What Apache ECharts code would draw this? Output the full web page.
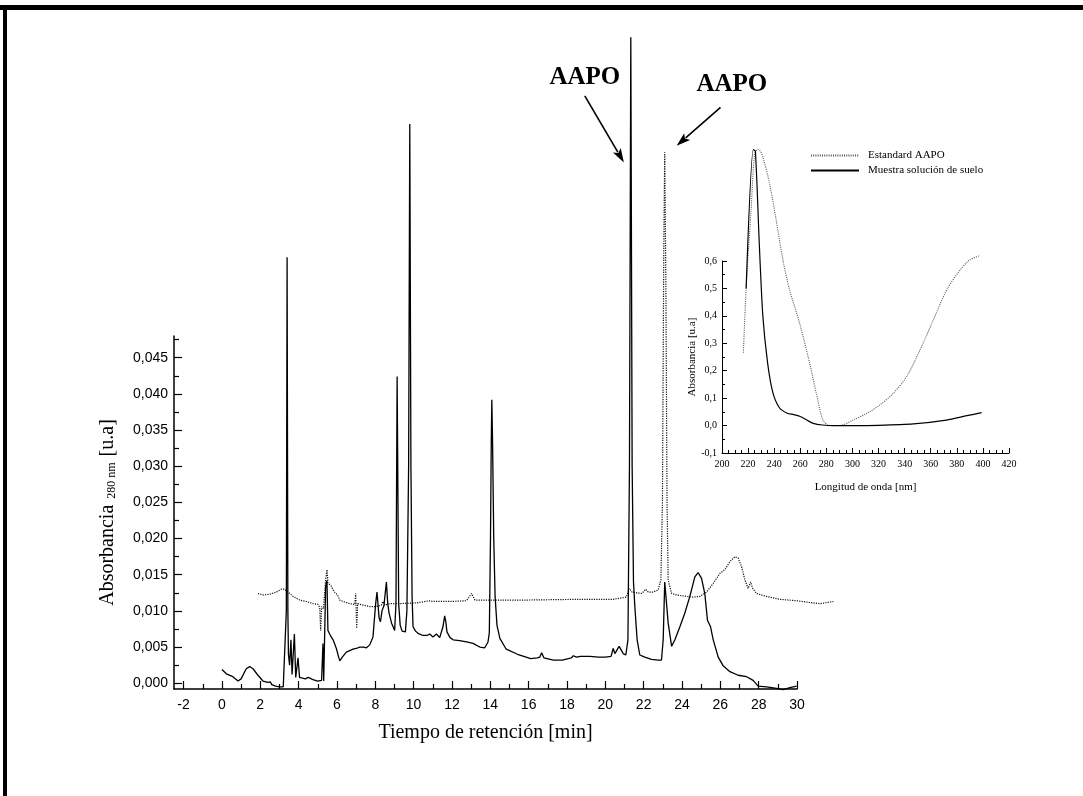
<!DOCTYPE html>
<html>
<head>
<meta charset="utf-8">
<script src="https://cdn.jsdelivr.net/npm/echarts@6/dist/echarts.min.js"></script>
<style>
  html, body { margin: 0; padding: 0; background: #fff; }
  #chart { width: 1083px; height: 796px; }
</style>
</head>
<body>
<div id="chart"></div>
<script>
// Chromatogram of the soil-solution sample (solid line): retention time [min] / absorbance at 280 nm
const muestraTime = [0.0, 0.23, 0.57, 0.84, 1.0, 1.27, 1.45, 1.62, 1.88, 2.14, 2.4, 2.52, 2.6, 2.8, 3.0, 3.2, 3.3, 3.36, 3.4, 3.44, 3.47, 3.53, 3.6, 3.66, 3.72, 3.78, 3.85, 3.9, 3.97, 4.05, 4.2, 4.35, 4.5, 4.75, 5.0, 5.2, 5.27, 5.31, 5.36, 5.41, 5.48, 5.53, 5.62, 5.7, 5.8, 5.97, 6.1, 6.15, 6.28, 6.35, 6.49, 6.84, 7.0, 7.19, 7.4, 7.54, 7.71, 7.88, 8.02, 8.09, 8.2, 8.27, 8.35, 8.45, 8.58, 8.65, 8.72, 8.85, 8.93, 9.01, 9.08, 9.14, 9.22, 9.3, 9.4, 9.5, 9.57, 9.65, 9.74, 9.8, 9.86, 9.92, 9.97, 10.1, 10.23, 10.49, 10.7, 10.84, 11.01, 11.19, 11.36, 11.53, 11.62, 11.68, 11.74, 11.9, 12.06, 12.4, 12.76, 13.1, 13.45, 13.71, 13.88, 13.95, 14.01, 14.05, 14.08, 14.12, 14.18, 14.25, 14.35, 14.5, 14.83, 15.42, 16.11, 16.45, 16.58, 16.68, 16.8, 17.29, 17.76, 18.23, 18.33, 18.5, 18.7, 19.2, 19.63, 20.0, 20.3, 20.41, 20.5, 20.6, 20.72, 20.85, 20.93, 21.07, 21.18, 21.26, 21.33, 21.4, 21.47, 21.54, 21.66, 21.8, 22.06, 22.41, 22.76, 22.93, 23.02, 23.1, 23.19, 23.28, 23.46, 23.63, 23.89, 24.15, 24.41, 24.67, 24.84, 25.02, 25.19, 25.33, 25.49, 25.63, 25.89, 26.15, 26.5, 26.93, 27.37, 27.71, 27.97, 28.41, 28.93, 29.28, 29.63, 29.98];
const muestraAbs = [0.0019, 0.0013, 0.0009, 0.0003, 0.0006, 0.0020, 0.0023, 0.0020, 0.0011, 0.0003, 0.0001, 0.0002, -0.0002, -0.0004, -0.0005, -0.0005, -0.0004, 0.0100, 0.0589, 0.0100, 0.0040, 0.0025, 0.0060, 0.0012, 0.0010, 0.0068, 0.0008, 0.0010, 0.0035, 0.0008, 0.0007, 0.0006, 0.0008, 0.0005, 0.0003, 0.0004, 0.0055, 0.0003, 0.0004, 0.0133, 0.0142, 0.0073, 0.0068, 0.0064, 0.0060, 0.0048, 0.0035, 0.0031, 0.0036, 0.0034, 0.0043, 0.0047, 0.0048, 0.0050, 0.0050, 0.0049, 0.0053, 0.0064, 0.0110, 0.0126, 0.0090, 0.0085, 0.0100, 0.0107, 0.0140, 0.0110, 0.0097, 0.0083, 0.0078, 0.0073, 0.0110, 0.0424, 0.0110, 0.0080, 0.0072, 0.0070, 0.0071, 0.0100, 0.0300, 0.0773, 0.0300, 0.0120, 0.0078, 0.0072, 0.0069, 0.0066, 0.0066, 0.0068, 0.0064, 0.0068, 0.0063, 0.0078, 0.0093, 0.0085, 0.0071, 0.0063, 0.0060, 0.0059, 0.0057, 0.0055, 0.0050, 0.0049, 0.0057, 0.0070, 0.0200, 0.0330, 0.0392, 0.0330, 0.0200, 0.0120, 0.0080, 0.0062, 0.0047, 0.0040, 0.0034, 0.0035, 0.0036, 0.0042, 0.0035, 0.0032, 0.0032, 0.0035, 0.0038, 0.0036, 0.0037, 0.0037, 0.0036, 0.0036, 0.0037, 0.0048, 0.0041, 0.0043, 0.0051, 0.0045, 0.0041, 0.0039, 0.0060, 0.0300, 0.0893, 0.0300, 0.0140, 0.0106, 0.0060, 0.0039, 0.0036, 0.0033, 0.0032, 0.0032, 0.0060, 0.0140, 0.0142, 0.0083, 0.0051, 0.0060, 0.0078, 0.0097, 0.0120, 0.0147, 0.0153, 0.0145, 0.0124, 0.0087, 0.0078, 0.0060, 0.0036, 0.0024, 0.0016, 0.0011, 0.0009, 0.0004, -0.0004, -0.0005, -0.0007, -0.0009, -0.0006, -0.0004];

// Chromatogram of the AAPO standard (dotted line); it runs on a little past the 30 min tick
const estandarTime = [1.88, 2.14, 2.49, 2.84, 3.1, 3.27, 3.45, 3.71, 4.06, 4.4, 4.75, 5.01, 5.1, 5.15, 5.2, 5.3, 5.41, 5.48, 5.53, 5.6, 5.71, 5.8, 5.88, 5.97, 6.03, 6.14, 6.32, 6.66, 6.93, 6.98, 7.03, 7.08, 7.36, 7.71, 8.06, 8.32, 8.4, 8.5, 8.75, 9.27, 10.15, 10.84, 11.0, 11.88, 12.76, 13.02, 13.2, 13.8, 14.49, 16.0, 18.67, 20.41, 21.1, 21.24, 21.4, 21.63, 21.9, 22.11, 22.24, 22.5, 22.76, 22.9, 22.98, 23.05, 23.1, 23.16, 23.22, 23.28, 23.46, 23.72, 24.24, 24.58, 24.93, 25.28, 25.63, 25.98, 26.24, 26.5, 26.76, 26.93, 27.11, 27.28, 27.45, 27.58, 27.69, 27.89, 28.41, 29.11, 29.98, 30.85, 31.2, 31.9];
const estandarAbs = [0.0124, 0.0122, 0.0123, 0.0126, 0.0130, 0.0130, 0.0126, 0.0120, 0.0115, 0.0113, 0.0110, 0.0109, 0.0105, 0.0073, 0.0106, 0.0103, 0.0143, 0.0157, 0.0139, 0.0140, 0.0134, 0.0129, 0.0126, 0.0127, 0.0122, 0.0115, 0.0113, 0.0110, 0.0109, 0.0124, 0.0076, 0.0110, 0.0108, 0.0106, 0.0106, 0.0108, 0.0113, 0.0108, 0.0110, 0.0110, 0.0111, 0.0114, 0.0113, 0.0113, 0.0114, 0.0124, 0.0115, 0.0115, 0.0115, 0.0115, 0.0116, 0.0116, 0.0119, 0.0131, 0.0126, 0.0125, 0.0124, 0.0130, 0.0126, 0.0126, 0.0129, 0.0143, 0.0250, 0.0600, 0.0734, 0.0550, 0.0250, 0.0143, 0.0124, 0.0122, 0.0120, 0.0119, 0.0120, 0.0126, 0.0138, 0.0152, 0.0157, 0.0168, 0.0175, 0.0173, 0.0161, 0.0143, 0.0131, 0.0140, 0.0131, 0.0124, 0.0120, 0.0116, 0.0114, 0.0111, 0.0110, 0.0113];

// UV spectra (inset): wavelength [nm] / absorbance
const specEstandarNm = [216.4, 218.5, 222.3, 225, 227.4, 229.5, 231.3, 236.4, 241.5, 246.7, 251.8, 259.5, 267.2, 272.3, 277.4, 282.6, 290, 300.5, 310.8, 321, 331.3, 341.5, 351.8, 362, 372.3, 382.6, 390, 398];
const specEstandarAbs = [0.266, 0.50, 0.787, 0.99, 1.007, 1.0, 0.98, 0.884, 0.75, 0.604, 0.495, 0.373, 0.227, 0.118, 0.02, 0.0, 0.0, 0.02, 0.044, 0.075, 0.118, 0.178, 0.276, 0.385, 0.495, 0.568, 0.604, 0.62];
const specMuestraNm = [218.5, 224, 225.6, 228.7, 231.3, 235, 239, 244, 250, 255, 260, 265, 270, 277, 285, 300, 320, 346.7, 372, 387.7, 399];
const specMuestraAbs = [0.50, 1.006, 1.0, 0.65, 0.40, 0.227, 0.12, 0.065, 0.045, 0.04, 0.033, 0.02, 0.008, 0.002, 0.0, 0.0, 0.001, 0.006, 0.02, 0.036, 0.047];

// Axis tick positions
const timeMajorTicks = [-2, 0, 2, 4, 6, 8, 10, 12, 14, 16, 18, 20, 22, 24, 26, 28, 30];
const timeMinorTicks = [-1, 1, 3, 5, 7, 9, 11, 13, 15, 17, 19, 21, 23, 25, 27, 29];
const absMajorTicks = [0, 0.005, 0.010, 0.015, 0.020, 0.025, 0.030, 0.035, 0.040, 0.045];
const absMinorTicks = [0.0025, 0.0075, 0.0125, 0.0175, 0.0225, 0.0275, 0.0325, 0.0375, 0.0425, 0.0475];

// Peak annotations (retention time / absorbance)
const aapoLabels = [[18.93, 0.0837], [26.6, 0.0827]];
const aapoArrows = [[[18.93, 0.0812], [20.97, 0.0720]], [[26.01, 0.0796], [23.72, 0.0743]]];

const zip = (a, b) => a.map((v, i) => [v, b[i]]);
const comma = (v, d) => v.toFixed(d).replace('.', ',');

const SANS = 'Liberation Sans, Arial, sans-serif';
const SERIF = 'Liberation Serif, Times New Roman, serif';
const BLACK = '#000';

// Main plot geometry: time axis -2.5 .. 30 min, absorbance -0.0008 .. 0.048
const T_MIN = -2.5, T_MAX = 30, T_EXT = 32;
const A_MIN = -0.0008, A_MAX = 0.048;
const MAIN = { left: 174, top: 336, width: 623, height: 353 };
// Same scale, stretched to the right so the standard trace can run past 30 min
const pxPerMin = MAIN.width / (T_MAX - T_MIN);
const EXT = { left: MAIN.left, top: MAIN.top, width: pxPerMin * (T_EXT - T_MIN), height: MAIN.height };

const chart = echarts.init(document.getElementById('chart'), null, { renderer: 'canvas' });

const frame = [
  { type: 'rect', shape: { x: 0, y: 5, width: 1083, height: 5 }, style: { fill: BLACK }, silent: true },
  { type: 'rect', shape: { x: 3, y: 5, width: 4, height: 791 }, style: { fill: BLACK }, silent: true }
];

const hiddenAxis = (gridIndex, min, max) => ({
  gridIndex, type: 'value', min, max, show: false,
  axisLine: { show: false, onZero: false }, axisTick: { show: false }, axisLabel: { show: false }, splitLine: { show: false }
});

const option = {
  backgroundColor: '#fff',
  animation: false,
  graphic: frame,
  grid: [
    Object.assign({ outerBoundsMode: 'none' }, MAIN),
    { left: 722, top: 261, width: 287, height: 192, outerBoundsMode: 'none' },
    Object.assign({ outerBoundsMode: 'none' }, EXT)
  ],
  legend: {
    data: ['Estandard AAPO', 'Muestra solución de suelo'],
    orient: 'vertical',
    left: 805,
    top: 145,
    itemWidth: 48,
    itemHeight: 10,
    itemGap: 4,
    selectedMode: false,
    itemStyle: { opacity: 0 },
    textStyle: { fontFamily: SERIF, fontSize: 11, color: BLACK, padding: [0, 0, 0, 4] }
  },
  xAxis: [
    {
      gridIndex: 0, type: 'value', min: T_MIN, max: T_MAX, position: 'bottom',
      name: 'Tiempo de retención [min]', nameLocation: 'middle', nameGap: 34,
      nameTextStyle: { fontFamily: SERIF, fontSize: 20, color: BLACK },
      axisLine: { onZero: false, lineStyle: { color: BLACK, width: 1.5 } },
      axisTick: { inside: true, length: 8, customValues: timeMajorTicks, lineStyle: { color: BLACK, width: 1.2 } },
      axisLabel: { customValues: timeMajorTicks, fontFamily: SANS, fontSize: 14, color: BLACK, margin: 9 },
      splitLine: { show: false }
    },
    {
      gridIndex: 0, type: 'value', min: T_MIN, max: T_MAX, position: 'bottom',
      axisLine: { show: false, onZero: false },
      axisTick: { inside: true, length: 5, customValues: timeMinorTicks, lineStyle: { color: BLACK, width: 1.2 } },
      axisLabel: { show: false },
      splitLine: { show: false }
    },
    {
      gridIndex: 1, type: 'value', min: 200, max: 420, interval: 20, position: 'bottom',
      name: 'Longitud de onda [nm]', nameLocation: 'middle', nameGap: 29,
      nameTextStyle: { fontFamily: SERIF, fontSize: 11, color: BLACK },
      axisLine: { onZero: false, lineStyle: { color: BLACK, width: 1 } },
      axisTick: { inside: true, length: 5, lineStyle: { color: BLACK } },
      minorTick: { show: true, splitNumber: 4, length: 3, lineStyle: { color: BLACK } },
      axisLabel: { fontFamily: SERIF, fontSize: 10, color: BLACK, margin: 6 },
      splitLine: { show: false }
    },
    hiddenAxis(2, T_MIN, T_EXT)
  ],
  yAxis: [
    {
      gridIndex: 0, type: 'value', min: A_MIN, max: A_MAX, position: 'left',
      name: 'Absorbancia {sub|280 nm} [u.a]', nameLocation: 'middle', nameGap: 56,
      nameTextStyle: {
        fontFamily: SERIF, fontSize: 20, color: BLACK,
        rich: { sub: { fontFamily: SERIF, fontSize: 12, color: BLACK, verticalAlign: 'bottom', padding: [9, 1, 0, 1] } }
      },
      axisLine: { onZero: false, lineStyle: { color: BLACK, width: 1.5 } },
      axisTick: { inside: true, length: 8, customValues: absMajorTicks, lineStyle: { color: BLACK, width: 1.2 } },
      axisLabel: { customValues: absMajorTicks, formatter: v => comma(v, 3), fontFamily: SANS, fontSize: 14, color: BLACK, margin: 6 },
      splitLine: { show: false }
    },
    {
      gridIndex: 0, type: 'value', min: A_MIN, max: A_MAX, position: 'left',
      axisLine: { show: false, onZero: false },
      axisTick: { inside: true, length: 5, customValues: absMinorTicks, lineStyle: { color: BLACK, width: 1.2 } },
      axisLabel: { show: false },
      splitLine: { show: false }
    },
    {
      gridIndex: 1, type: 'value', min: -0.1, max: 0.6, interval: 0.1, position: 'left',
      name: 'Absorbancia [u.a]', nameLocation: 'middle', nameGap: 24,
      nameTextStyle: { fontFamily: SERIF, fontSize: 11, color: BLACK },
      axisLine: { onZero: false, lineStyle: { color: BLACK, width: 1 } },
      axisTick: { inside: true, length: 5, lineStyle: { color: BLACK } },
      minorTick: { show: true, splitNumber: 2, length: 3, lineStyle: { color: BLACK } },
      axisLabel: { formatter: v => comma(v, 1), fontFamily: SERIF, fontSize: 10, color: BLACK, margin: 5 },
      splitLine: { show: false }
    },
    hiddenAxis(2, A_MIN, A_MAX)
  ],
  series: [
    {
      name: 'Estandard AAPO (cromatograma)', type: 'line', xAxisIndex: 3, yAxisIndex: 3,
      data: zip(estandarTime, estandarAbs), symbol: 'none', clip: false, silent: true,
      lineStyle: { color: '#111', width: 1.2, type: [1.2, 1.2] }
    },
    {
      name: 'Muestra (cromatograma)', type: 'line', xAxisIndex: 0, yAxisIndex: 0,
      data: zip(muestraTime, muestraAbs), symbol: 'none', clip: false, silent: true,
      lineStyle: { color: BLACK, width: 1.3 }
    },
    {
      name: 'Estandard AAPO', type: 'line', xAxisIndex: 2, yAxisIndex: 2,
      data: zip(specEstandarNm, specEstandarAbs), symbol: 'none', clip: false, silent: true, smooth: 0.3,
      itemStyle: { color: '#555' },
      lineStyle: { color: '#555', width: 1.1, type: [1, 1.2] }
    },
    {
      name: 'Muestra solución de suelo', type: 'line', xAxisIndex: 2, yAxisIndex: 2,
      data: zip(specMuestraNm, specMuestraAbs), symbol: 'none', clip: false, silent: true, smooth: 0.25,
      itemStyle: { color: BLACK },
      lineStyle: { color: BLACK, width: 1.2 }
    }
  ]
};

chart.setOption(option);

// AAPO labels and arrows, placed in retention-time / absorbance coordinates
const toPx = c => chart.convertToPixel({ xAxisIndex: 0, yAxisIndex: 0 }, c);
const notes = [];
aapoLabels.forEach(c => {
  const p = toPx(c);
  notes.push({
    type: 'text', x: p[0], y: p[1], silent: true,
    style: { text: 'AAPO', fontFamily: SERIF, fontWeight: 'bold', fontSize: 25, fill: BLACK, align: 'center', verticalAlign: 'middle' }
  });
});
aapoArrows.forEach(([a, b]) => {
  const p0 = toPx(a), p1 = toPx(b);
  const dx = p1[0] - p0[0], dy = p1[1] - p0[1];
  const len = Math.hypot(dx, dy), ux = dx / len, uy = dy / len;
  const head = 14, half = 4.5;
  const bx = p1[0] - ux * head, by = p1[1] - uy * head;
  notes.push({
    type: 'line', silent: true,
    shape: { x1: p0[0], y1: p0[1], x2: bx + ux * 2, y2: by + uy * 2 },
    style: { stroke: BLACK, lineWidth: 1.6 }
  });
  notes.push({
    type: 'polygon', silent: true,
    shape: { points: [[p1[0], p1[1]], [bx - uy * half, by + ux * half], [bx + ux * 3, by + uy * 3], [bx + uy * half, by - ux * half]] },
    style: { fill: BLACK }
  });
});
chart.setOption({ graphic: frame.concat(notes) });
</script>
</body>
</html>
